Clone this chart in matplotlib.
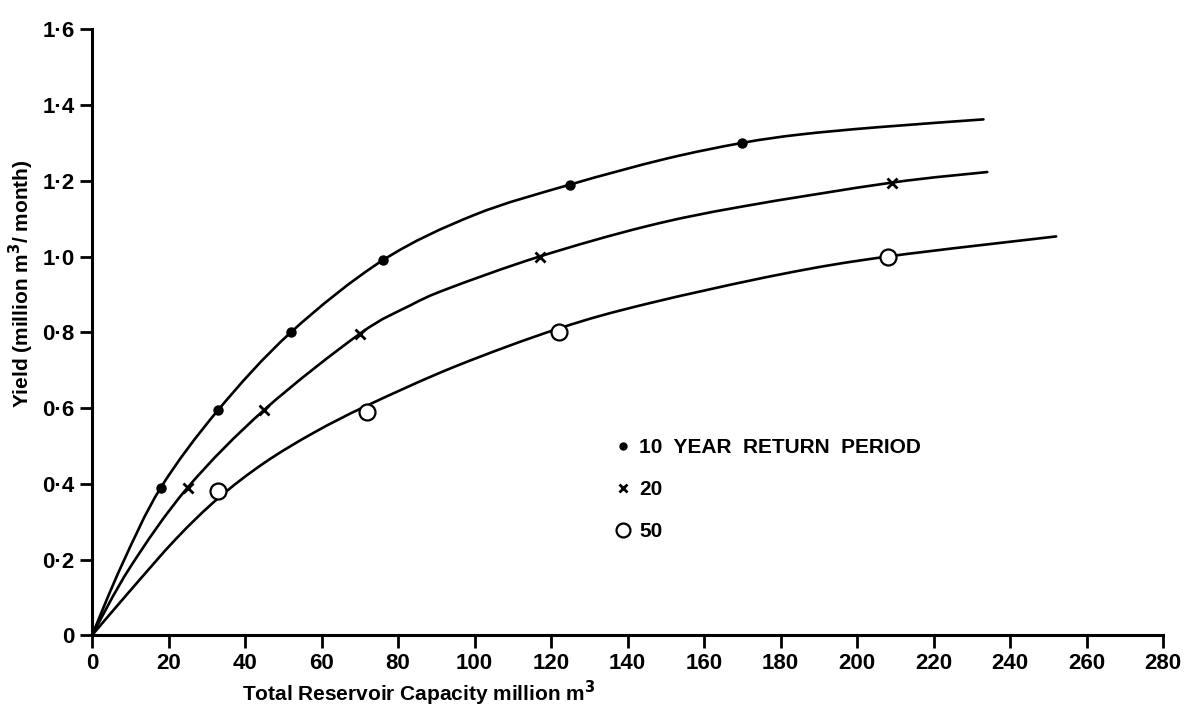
import matplotlib.pyplot as plt
from matplotlib.lines import Line2D
from matplotlib.path import Path
from matplotlib.patches import PathPatch

# measured points (marker positions)
yr10_x = [18, 33, 52, 76, 125, 170]
yr10_y = [0.39, 0.595, 0.80, 0.99, 1.19, 1.30]
yr20_x = [25, 45, 70, 117, 209]
yr20_y = [0.39, 0.595, 0.795, 1.0, 1.195]
yr50_x = [33, 72, 122, 208]
yr50_y = [0.38, 0.59, 0.80, 1.0]

# hand-drawn curves
curve10_x = [0, 8, 18, 33, 52, 76, 100, 125, 150, 170, 185, 205, 233]
curve10_y = [0, 0.19, 0.39, 0.595, 0.80, 0.99, 1.11, 1.19, 1.258, 1.30, 1.322, 1.341, 1.362]
curve20_x = [0, 10, 25, 45, 70, 83, 93, 117, 145, 170, 209, 234]
curve20_y = [0, 0.18, 0.39, 0.595, 0.796, 0.87, 0.915, 1.0, 1.08, 1.132, 1.195, 1.223]
curve50_x = [0, 10, 22, 33, 45, 58, 72, 95, 122, 145, 180, 208, 252]
curve50_y = [0, 0.118, 0.255, 0.362, 0.455, 0.535, 0.607, 0.71, 0.81, 0.875, 0.953, 1.0, 1.053]

x_ticks = list(range(0, 281, 20))
y_ticks = [0, 0.2, 0.4, 0.6, 0.8, 1.0, 1.2, 1.4, 1.6]
y_ticklabels = ['0', '0·2', '0·4', '0·6', '0·8', '1·0', '1·2', '1·4', '1·6']
legend_labels = ['10  YEAR  RETURN  PERIOD', '20', '50']


def smooth_stroke(xs, ys):
    """Catmull-Rom stroke through the traced points, as bezier path."""
    pts = list(zip(xs, ys))
    verts = [pts[0]]
    codes = [Path.MOVETO]
    for i in range(len(pts) - 1):
        p0 = pts[i - 1] if i > 0 else pts[i]
        p1 = pts[i]
        p2 = pts[i + 1]
        p3 = pts[i + 2] if i + 2 < len(pts) else pts[i + 1]
        c1 = (p1[0] + (p2[0] - p0[0]) / 6, p1[1] + (p2[1] - p0[1]) / 6)
        c2 = (p2[0] - (p3[0] - p1[0]) / 6, p2[1] - (p3[1] - p1[1]) / 6)
        verts += [c1, c2, p2]
        codes += [Path.CURVE4] * 3
    return Path(verts, codes)


plt.rcParams['font.family'] = ['Liberation Sans', 'DejaVu Sans']
plt.rcParams['font.weight'] = 'bold'
plt.rcParams['axes.labelweight'] = 'bold'
plt.rcParams['mathtext.default'] = 'bf'

fig = plt.figure(figsize=(12.01, 7.13), dpi=100)
ax = fig.add_axes([0.0766, 0.109, 0.892, 0.85])

lw = 1.9
for cx, cy in [(curve10_x, curve10_y), (curve20_x, curve20_y), (curve50_x, curve50_y)]:
    ax.add_patch(PathPatch(smooth_stroke(cx, cy), fill=False, ec='black', lw=lw,
                           capstyle='round', joinstyle='round'))

ax.plot(yr10_x, yr10_y, 'o', c='black', ms=6.5, ls='none')
ax.plot(yr20_x, yr20_y, 'x', c='black', ms=7, mew=2, ls='none')
ax.plot(yr50_x, yr50_y, 'o', mfc='white', mec='black', ms=11.5, mew=1.6, ls='none')

ax.set_xlim(0, 280)
ax.set_ylim(0, 1.6)
ax.set_xticks(x_ticks)
ax.set_yticks(y_ticks)
ax.set_yticklabels(y_ticklabels)
ax.tick_params(labelsize=16, width=2, length=9, direction='out')

for side in ('top', 'right'):
    ax.spines[side].set_visible(False)
for side in ('left', 'bottom'):
    ax.spines[side].set_linewidth(2.2)

ax.set_xlabel('Total Reservoir Capacity million m$^3$', fontsize=15)
ax.xaxis.set_label_coords(0.305, -0.072)
ax.set_ylabel('Yield (million m$^3$/ month)', fontsize=15)
ax.yaxis.set_label_coords(-0.052, 0.58)

handles = [
    Line2D([], [], marker='o', c='black', ms=5, ls='none'),
    Line2D([], [], marker='x', c='black', ms=6, mew=2, ls='none'),
    Line2D([], [], marker='o', mfc='white', mec='black', ms=10, mew=1.6, ls='none'),
]
ax.legend(handles, legend_labels, loc='upper left', bbox_to_anchor=(0.47, 0.356),
          frameon=False, fontsize=15, labelspacing=1.1, handlelength=0.8,
          handletextpad=0.4)

fig.savefig('out.png', dpi=100)
